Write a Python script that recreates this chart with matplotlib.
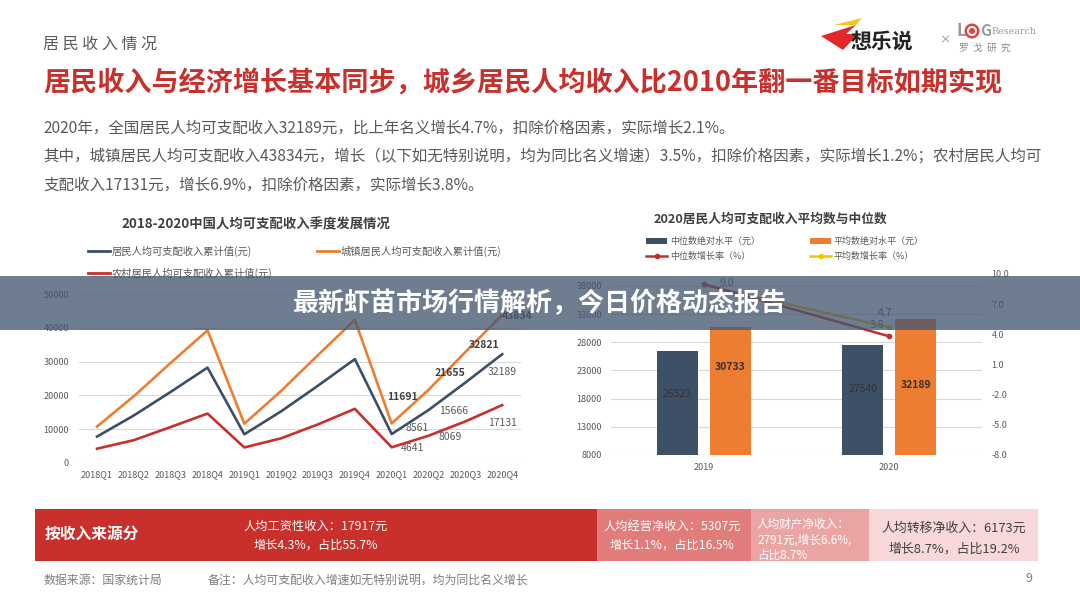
import matplotlib
matplotlib.use('Agg')
import matplotlib.pyplot as plt
from matplotlib.patches import Rectangle, Ellipse, Polygon
from matplotlib.lines import Line2D
import numpy as np

plt.rcParams['font.family'] = ['Noto Sans CJK SC', 'DejaVu Sans']

W, H = 1080, 608

# 季度累计值（元）
quarters = ['2018Q1', '2018Q2', '2018Q3', '2018Q4',
            '2019Q1', '2019Q2', '2019Q3', '2019Q4',
            '2020Q1', '2020Q2', '2020Q3', '2020Q4']
national = [7815, 14063, 21035, 28228, 8493, 15294, 22882, 30733, 8561, 15666, 23781, 32189]
urban = [10781, 19770, 29599, 39251, 11633, 21342, 31939, 42359, 11691, 21655, 32821, 43834]
rural = [4226, 6760, 10645, 14617, 4600, 7308, 11435, 16021, 4641, 8069, 12297, 17131]

# 平均数与中位数
years = ['2019', '2020']
median_level = [26523, 27540]
mean_level = [30733, 32189]
median_growth = [9.0, 3.8]
mean_growth = [8.9, 4.7]

# 按收入来源分
source_lines = [
    ['人均工资性收入：17917元', '增长4.3%，占比55.7%'],
    ['人均经营净收入：5307元', '增长1.1%，占比16.5%'],
    ['人均财产净收入：', '2791元,增长6.6%,', '占比8.7%'],
    ['人均转移净收入：6173元', '增长8.7%，占比19.2%'],
]

NAVY = '#3d4f66'
ORANGE = '#ed7d31'
RED = '#c8302c'
GRAY = '#595959'


def fx(x):
    return x / W


def fy(y):
    return 1 - y / H


fig = plt.figure(figsize=(W / 100, H / 100), dpi=100)


def txt(x, y, s, **kw):
    kw.setdefault('va', 'center')
    fig.text(fx(x), fy(y), s, **kw)


def rect(x0, y0, x1, y1, **kw):
    fig.add_artist(Rectangle((fx(x0), fy(y1)), (x1 - x0) / W, (y1 - y0) / H,
                             transform=fig.transFigure, lw=0, **kw))


# 页面标题和正文
txt(43, 44, '居 民 收 入 情 况', fontsize=11.5, color=GRAY)
txt(43, 83, '居民收入与经济增长基本同步，城乡居民人均收入比2010年翻一番目标如期实现',
    fontsize=19.5, color=RED, fontweight='bold')
para = ['2020年，全国居民人均可支配收入32189元，比上年名义增长4.7%，扣除价格因素，实际增长2.1%。',
        '其中，城镇居民人均可支配收入43834元，增长（以下如无特别说明，均为同比名义增速）3.5%，扣除价格因素，实际增长1.2%；农村居民人均可',
        '支配收入17131元，增长6.9%，扣除价格因素，实际增长3.8%。']
for i, line in enumerate(para):
    txt(43, 128 + i * 28.5, line, fontsize=11.2, color=GRAY)

# logo
fig.add_artist(Polygon([(fx(821), fy(36)), (fx(856), fy(25)), (fx(846), fy(34)),
                        (fx(858), fy(34)), (fx(843), fy(50))],
                       transform=fig.transFigure, color='#e3262a', lw=0))
fig.add_artist(Polygon([(fx(834), fy(25)), (fx(862), fy(18)), (fx(856), fy(25))],
                       transform=fig.transFigure, color='#f7c31d', lw=0))
txt(851, 41, '想乐说', fontsize=15, color='#222222', fontweight='bold', style='italic')
txt(939, 40, '×', fontsize=8, color='#888888')
txt(956, 31, 'L', fontsize=12, color='#9a9a9a', fontweight='bold')
for r, c in [(7.5, '#e0443a'), (5, 'white'), (3, '#e0443a')]:
    fig.add_artist(Ellipse((fx(972), fy(31)), 2 * r / W, 2 * r / H,
                           transform=fig.transFigure, color=c, lw=0))
txt(980, 31, 'G', fontsize=11, color='#9a9a9a', fontweight='bold')
txt(991, 32, 'Research', fontsize=6.8, color='#9a9a9a', family='DejaVu Serif')
txt(959, 48, '罗  戈  研  究', fontsize=7, color='#8a8a8a')

# 左图：季度折线
ax1 = fig.add_axes([fx(78.6), fy(463), 442 / W, 169 / H])
xs = np.arange(len(quarters))
ax1.plot(xs, urban, color=ORANGE, lw=1.9)
ax1.plot(xs, national, color=NAVY, lw=1.9)
ax1.plot(xs, rural, color=RED, lw=1.9)
ax1.set_xlim(-0.5, len(quarters) - 0.5)
ax1.set_ylim(0, 50000)
ax1.set_yticks(range(0, 50001, 10000))
ax1.set_xticks(xs, quarters)
ax1.yaxis.grid(True, color='#d9d9d9', lw=0.8)
ax1.set_axisbelow(True)
for s in ax1.spines.values():
    s.set_visible(False)
ax1.tick_params(length=0, labelsize=6.5, colors=GRAY)
ax1.tick_params(axis='y', pad=7)
ax1.tick_params(axis='x', pad=5)

# 2020年数据标签
lbl_style = [
    (urban, {8: (11, 26), 9: (21, 17), 10: (19, 7), 11: (15, -1)}, 'bold', '#404040'),
    (national, {8: (25, 6), 9: (25, -1), 11: (0, -18)}, 'normal', GRAY),
    (rural, {8: (21, -1), 9: (22, -1), 11: (0, -18)}, 'normal', GRAY),
]
for series, offs, wt, col in lbl_style:
    for i, (dx, dy) in offs.items():
        ax1.annotate(str(series[i]), (xs[i], series[i]), xytext=(dx, dy),
                     textcoords='offset pixels', ha='center', va='center',
                     fontsize=7.5, fontweight=wt, color=col)

txt(256, 224, '2018-2020中国人均可支配收入季度发展情况', fontsize=9.6,
    fontweight='bold', color='#404040', ha='center')
leg1 = [('居民人均可支配收入累计值(元)', NAVY, 88, 251),
        ('城镇居民人均可支配收入累计值(元)', ORANGE, 317, 251),
        ('农村居民人均可支配收入累计值(元)', RED, 88, 273)]
for lab, col, x, y in leg1:
    fig.add_artist(Line2D([fx(x), fx(x + 22)], [fy(y), fy(y)], color=col, lw=2,
                          transform=fig.transFigure))
    txt(x + 24, y, lab, fontsize=7.4, color=GRAY)

# 右图：平均数与中位数
ax2 = fig.add_axes([fx(611), fy(455), 371 / W, 181 / H])
xb = np.arange(len(years))
b1 = ax2.bar(xb - 0.143, median_level, width=0.221, color='#3e5066', zorder=2)
b2 = ax2.bar(xb + 0.143, mean_level, width=0.221, color=ORANGE, zorder=2)
ax2.set_xlim(-0.5, 1.5)
ax2.set_ylim(8000, 40130)
ax2.set_yticks(range(8000, 38001, 5000))
ax2.set_xticks(xb, years)
ax2.yaxis.grid(True, color='#d9d9d9', lw=0.8)
ax2.set_axisbelow(True)
for s in ax2.spines.values():
    s.set_visible(False)
ax2.tick_params(length=0, labelsize=6.5, colors=GRAY)
ax2.tick_params(axis='y', pad=6.5)
ax2.tick_params(axis='x', pad=6)

for bars, vals, offs, wt in [(b1, median_level, [-43, -44], 'normal'),
                             (b2, mean_level, [-40, -66], 'bold')]:
    for bar, v, dy in zip(bars, vals, offs):
        ax2.annotate(str(v), (bar.get_x() + bar.get_width() / 2, v), xytext=(0, dy),
                     textcoords='offset pixels', ha='center', va='center',
                     fontsize=7.5, fontweight=wt, color='#333333')

ax3 = ax2.twinx()
ax3.plot(xb, mean_growth, color='#ffc000', lw=1.8, marker='o', ms=3, zorder=3)
ax3.plot(xb, median_growth, color='#c0302b', lw=1.8, marker='o', ms=3, zorder=3)
ax3.set_ylim(-8, 10)
ax3.set_yticks(np.arange(-8, 10.1, 3))
ax3.set_yticklabels([f'{v:.1f}' for v in np.arange(-8, 10.1, 3)])
for s in ax3.spines.values():
    s.set_visible(False)
ax3.tick_params(length=0, labelsize=6.5, colors=GRAY, pad=7)
for vals, i, (dx, dy) in [(median_growth, 0, (23, 1)), (mean_growth, 1, (-4, 14)),
                          (median_growth, 1, (-12, 11))]:
    ax3.annotate(f'{vals[i]:.1f}', (xb[i], vals[i]), xytext=(dx, dy),
                 textcoords='offset pixels', ha='center', va='center',
                 fontsize=7.5, color=GRAY)

txt(770, 219, '2020居民人均可支配收入平均数与中位数', fontsize=9.2,
    fontweight='bold', color='#404040', ha='center')
rect(646, 238, 667, 244, color='#3e5066')
txt(670, 241, '中位数绝对水平（元）', fontsize=6.5, color=GRAY)
rect(810, 238, 831, 244, color=ORANGE)
txt(834, 241, '平均数绝对水平（元）', fontsize=6.5, color=GRAY)
for col, x, lab in [('#c0302b', 646, '中位数增长率（%）'), ('#ffc000', 810, '平均数增长率（%）')]:
    fig.add_artist(Line2D([fx(x), fx(x + 21)], [fy(256), fy(256)], color=col, lw=1.8,
                          transform=fig.transFigure))
    fig.add_artist(Line2D([fx(x + 10.5)], [fy(256)], color=col, marker='o', ms=3,
                          transform=fig.transFigure))
    txt(x + 24, 256, lab, fontsize=6.5, color=GRAY)

# 覆盖横幅
rect(0, 276, W, 330, color='#445670', alpha=0.77, zorder=10)
txt(540, 304, '最新虾苗市场行情解析，今日价格动态报告', fontsize=18.7,
    fontweight='bold', color='white', ha='center', zorder=11)

# 底部收入来源条
rect(35, 509, 597, 561, color='#c9302c')
rect(597, 509, 751, 561, color='#e07c7a')
rect(751, 509, 869, 561, color='#eba4a4')
rect(869, 509, 1038, 561, color='#f7d7d7')
txt(45, 534, '按收入来源分', fontsize=11.3, fontweight='bold', color='white')
for (cx, ys), lines in zip([(316, [526, 545]), (672, [526, 545])], source_lines[:2]):
    for y, s in zip(ys, lines):
        txt(cx, y, s, fontsize=8.8, color='white', ha='center')
for y, s in zip([524, 540, 555], source_lines[2]):
    txt(757, y, s, fontsize=8.4, color='white')
for y, s in zip([528, 549], source_lines[3]):
    txt(954, y, s, fontsize=9.3, color='#404040', ha='center')

# 页脚
txt(43, 580, '数据来源：国家统计局', fontsize=8.6, color='#7f7f7f')
txt(208, 580, '备注：人均可支配收入增速如无特别说明，均为同比名义增长', fontsize=8.6, color='#7f7f7f')
txt(1025, 578, '9', fontsize=9, color='#7f7f7f')

fig.savefig('out.png', dpi=100)
